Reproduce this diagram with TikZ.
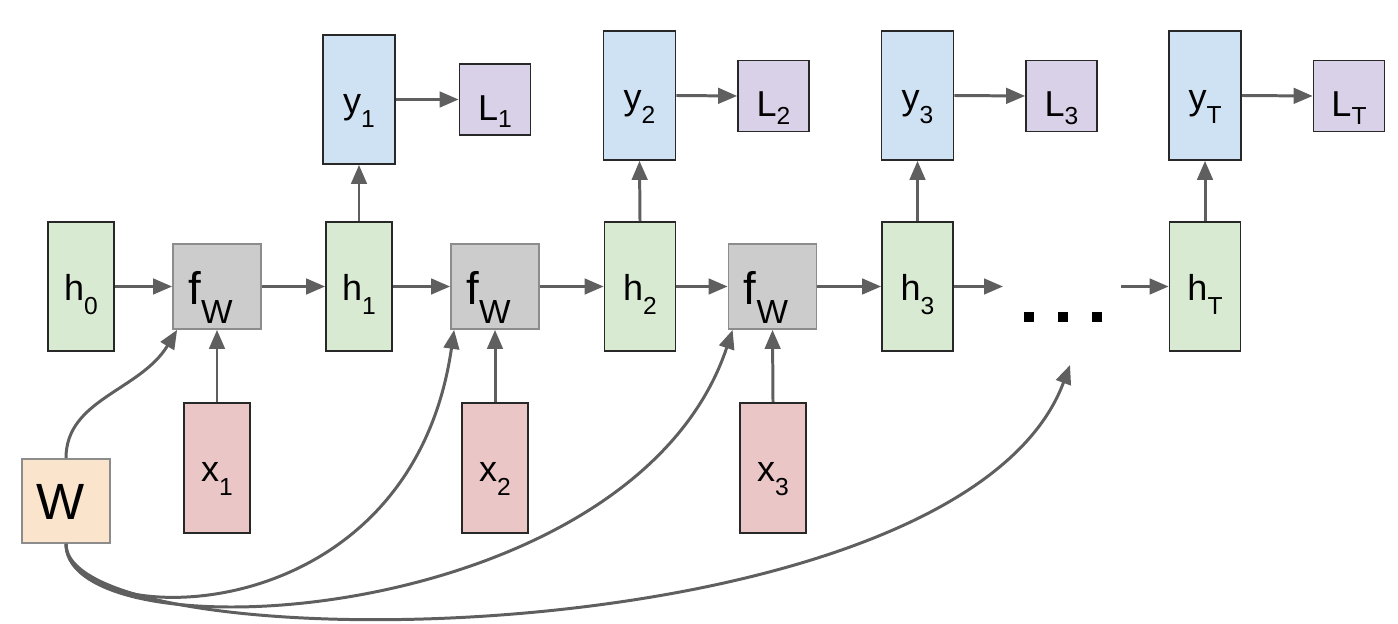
\documentclass[tikz,border=0pt]{standalone}
\usepackage{fontspec}
\setmainfont{Liberation Sans}
\usepackage{tikz}
\usetikzlibrary{arrows.meta}
\definecolor{hgreen}{RGB}{217, 234, 211}
\definecolor{yblue}{RGB}{207, 226, 243}
\definecolor{lpurple}{RGB}{216, 209, 232}
\definecolor{xpink}{RGB}{234, 198, 198}
\definecolor{wbeige}{RGB}{250, 228, 204}
\definecolor{fgray}{RGB}{204, 204, 204}
\definecolor{boxline}{RGB}{40, 40, 40}
\definecolor{softline}{RGB}{140, 140, 140}
\definecolor{edge}{RGB}{95, 95, 95}
\newcommand{\lowsub}[2][0.28cm]{\raisebox{-#1}[0pt][0pt]{\fontsize{14}{16}\selectfont #2}}

\begin{document}
\begin{tikzpicture}[x=0.02cm, y=-0.02cm,
		box/.style={rectangle, draw=boxline, line width=1pt, inner sep=0pt,
			text height=0.56cm, text depth=0cm, font=\fontsize{20.5}{24}\selectfont},
		hstate/.style={box, fill=hgreen, minimum width=1.42cm, minimum height=2.58cm},
		ystate/.style={box, fill=yblue, minimum width=1.44cm, minimum height=2.58cm},
		xinput/.style={box, fill=xpink, minimum width=1.32cm, minimum height=2.6cm},
		lossbox/.style={box, fill=lpurple, minimum size=1.42cm, text height=0.84cm},
		fcell/.style={box, draw=softline, fill=fgray, minimum width=1.76cm,
			minimum height=1.7cm, text height=0.74cm, font=\fontsize{26}{30}\selectfont},
		wbox/.style={box, draw=softline, fill=wbeige, minimum width=1.76cm,
			minimum height=1.68cm, text height=0.76cm, font=\fontsize{29}{34}\selectfont},
		arrow/.style={-{Triangle[length=0.38cm, width=0.31cm]}, line width=1.7pt, color=edge}
		]
		\useasboundingbox (0,0) rectangle (1398,624);
		
		\node[hstate, minimum width=1.32cm] (h0) at (81, 286.5) {h\lowsub{0}};
		\node[fcell] (f1) at (217, 286.5)
		{f\raisebox{-0.38cm}[0pt][0pt]{\fontsize{19}{22}\selectfont W}\hspace*{0.26cm}};
		\node[hstate, minimum width=1.32cm] (h1) at (359, 286.5) {h\lowsub{1}};
		\node[fcell] (f2) at (495, 286.5)
		{f\raisebox{-0.38cm}[0pt][0pt]{\fontsize{19}{22}\selectfont W}\hspace*{0.26cm}};
		\node[hstate] (h2) at (640, 286.5) {h\lowsub{2}};
		\node[fcell] (f3) at (772.5, 286.5)
		{f\raisebox{-0.38cm}[0pt][0pt]{\fontsize{19}{22}\selectfont W}\hspace*{0.26cm}};
		\node[hstate] (h3) at (917.5, 286.5) {h\lowsub{3}};
		\node[hstate] (hT) at (1205, 286.5) {h\lowsub{T}};
		
		\node[ystate] (y1) at (359, 99.5) {y\lowsub{1}};
		\node[lossbox] (L1) at (495, 99.5) {L\lowsub[0.15cm]{1}};
		\node[ystate] (y2) at (639.5, 95.5) {y\lowsub{2}};
		\node[lossbox] (L2) at (773.5, 96) {L\lowsub[0.15cm]{2}};
		\node[ystate] (y3) at (917.5, 95.5) {y\lowsub{3}};
		\node[lossbox] (L3) at (1061.5, 96) {L\lowsub[0.15cm]{3}};
		\node[ystate] (yT) at (1205, 95.5) {y\lowsub{T}};
		\node[lossbox] (LT) at (1349, 96) {L\lowsub[0.15cm]{T}};
		
		\node[xinput] (x1) at (217, 468) {x\lowsub{1}};
		\node[xinput] (x2) at (495, 468) {x\lowsub{2}};
		\node[xinput] (x3) at (773, 468) {x\lowsub{3}};
		
		\node[wbox] (W) at (66, 501) {W\hspace*{0.2cm}};
		
		\node[inner sep=0pt] (dots) at (1062.5, 317)
		{\rule{0.2cm}{0.2cm}\hspace{0.48cm}\rule{0.2cm}{0.2cm}\hspace{0.48cm}\rule{0.2cm}{0.2cm}};
		\coordinate (dotsin) at (1003, 286.5);
		\coordinate (dotsout) at (1121, 286.5);
		\coordinate (dotsw) at (1070, 365);
		
		\draw[arrow] (h0.east) -- (f1.west);
		\draw[arrow] (f1.east) -- (h1.west);
		\draw[arrow] (h1.east) -- (f2.west);
		\draw[arrow] (f2.east) -- (h2.west);
		\draw[arrow] (h2.east) -- (f3.west);
		\draw[arrow] (f3.east) -- (h3.west);
		\draw[arrow] (h3.east) -- (dotsin);
		\draw[arrow] (dotsout) -- (hT.west);
		
		\draw[arrow] (h1.north) -- (y1.south);
		\draw[arrow] (h2.north) -- (y2.south);
		\draw[arrow] (h3.north) -- (y3.south);
		\draw[arrow] (hT.north) -- (yT.south);
		\draw[arrow] (y1.east) -- (L1.west);
		\draw[arrow] (y2.east) -- (L2.west);
		\draw[arrow] (y3.east) -- (L3.west);
		\draw[arrow] (yT.east) -- (LT.west);
		
		\draw[arrow] (x1.north) -- (f1.south);
		\draw[arrow] (x2.north) -- (f2.south);
		\draw[arrow] (x3.north) -- (f3.south);
		
		\draw[arrow] (W.north) .. controls +(0,-59) and +(-37,61)
		.. ([xshift=0.1cm]f1.south west);
		\draw[arrow] (W.south) .. controls +(0,87) and +(-45,311)
		.. ([xshift=0.08cm]f2.south west);
		\draw[arrow] (W.south) .. controls +(0,115) and +(-100,300)
		.. ([xshift=0.1cm]f3.south west);
		\draw[arrow] (W.south) .. controls +(0,122) and +(-110,295) .. (dotsw);
	\end{tikzpicture}
\end{document}
